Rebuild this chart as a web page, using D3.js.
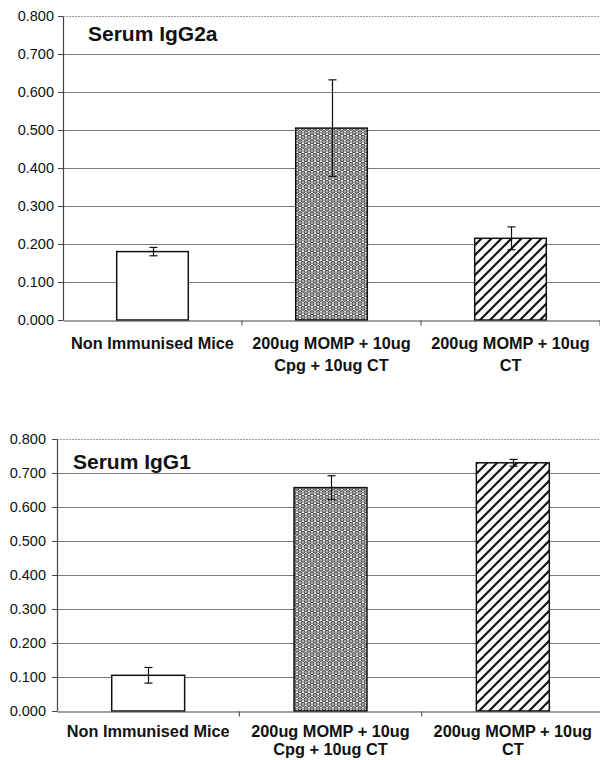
<!DOCTYPE html>
<html>
<head>
<meta charset="utf-8">
<script src="https://cdn.jsdelivr.net/npm/d3@7"></script>
<style>
  html, body { margin: 0; padding: 0; background: #fff; }
  svg { display: block; }
  text { font-family: "Liberation Sans", Arial, sans-serif; fill: #111; }
</style>
</head>
<body>
<svg id="chart" width="600" height="760"></svg>
<script>
// ---- data ----
const categories = ["Non Immunised Mice", "200ug MOMP + 10ug Cpg + 10ug CT", "200ug MOMP + 10ug CT"];
const categoryLines = [["Non Immunised Mice"], ["200ug MOMP + 10ug", "Cpg + 10ug CT"], ["200ug MOMP + 10ug", "CT"]];
const igg2aValues = [0.180, 0.505, 0.215];
const igg2aErrors = [0.011, 0.127, 0.030];
const igg1Values = [0.105, 0.657, 0.730];
const igg1Errors = [0.023, 0.035, 0.010];
const yTicks = [0, 0.1, 0.2, 0.3, 0.4, 0.5, 0.6, 0.7, 0.8];
const titles = ["Serum IgG2a", "Serum IgG1"];
const fills = ["plain", "spheres", "hatch"];

const svg = d3.select("#chart");
const defs = svg.append("defs");

// spheres pattern
const sp = defs.append("pattern").attr("id", "spheres")
  .attr("patternUnits", "userSpaceOnUse").attr("width", 6).attr("height", 9);
sp.append("rect").attr("width", 6).attr("height", 9).attr("fill", "#fff");
[[3, 2.25], [0, 6.75], [6, 6.75]].forEach(([cx, cy]) => {
  sp.append("circle").attr("cx", cx).attr("cy", cy).attr("r", 2.1)
    .attr("fill", "#a8a8a8").attr("stroke", "#222").attr("stroke-width", 0.9);
});

// hatch pattern
const hp = defs.append("pattern").attr("id", "hatch")
  .attr("patternUnits", "userSpaceOnUse").attr("width", 10).attr("height", 10);
hp.append("rect").attr("width", 10).attr("height", 10).attr("fill", "#fff");
hp.append("path").attr("d", "M-2,2 L2,-2 M0,10 L10,0 M8,12 L12,8")
  .attr("stroke", "#111").attr("stroke-width", 2.2);

function fillFor(k) {
  if (k === "spheres") return "url(#spheres)";
  if (k === "hatch") return "url(#hatch)";
  return "#fff";
}

function drawChart(cfg) {
  const { x0, x1, yBottom, yTop, values, errors, title, titleX, titleY, labelRight, labelY1, labelY2 } = cfg;
  const g = svg.append("g");
  const x = d3.scaleBand().domain(categories).range([x0, x1]).paddingInner(0.6).paddingOuter(0.3);
  const xb = d3.scaleBand().domain(categories).range([x0, x1]);
  const y = d3.scaleLinear().domain([0, 0.8]).range([yBottom, yTop]);

  // gridlines
  g.selectAll("line.grid").data(yTicks.filter(t => t > 0)).join("line")
    .attr("x1", x0).attr("x2", 600)
    .attr("y1", d => Math.round(y(d)) + 0.5).attr("y2", d => Math.round(y(d)) + 0.5)
    .attr("stroke", d => d === 0.8 ? "#999" : "#7a7a7a")
    .attr("stroke-width", 1)
    .attr("stroke-dasharray", d => d === 0.8 ? "2,1" : null);

  // y axis
  const yAxis = d3.axisLeft(y).tickValues(yTicks).tickFormat(d3.format(".3f")).tickSize(5).tickSizeOuter(0);
  const ya = g.append("g").attr("transform", `translate(${x0},0)`).call(yAxis);
  ya.select(".domain").attr("stroke", "#444").attr("stroke-width", 1.2);
  ya.selectAll(".tick line").attr("stroke", "#444");
  ya.selectAll(".tick text").attr("x", labelRight - x0).attr("font-size", 14.5)
    .attr("font-family", "Liberation Sans, Arial, sans-serif").attr("fill", "#222");

  // bars
  g.selectAll("rect.bar").data(values).join("rect")
    .attr("x", (d, i) => x(categories[i]))
    .attr("width", x.bandwidth())
    .attr("y", d => y(d))
    .attr("height", d => y(0) - y(d))
    .attr("fill", (d, i) => fillFor(fills[i]))
    .attr("stroke", "#111").attr("stroke-width", 1.5);

  // x axis
  const xAxis = d3.axisBottom(xb).tickSize(5).tickSizeOuter(0).tickFormat("");
  const xa = g.append("g").attr("transform", `translate(0,${Math.round(y(0)) + 0.5})`).call(xAxis);
  xa.select(".domain").attr("stroke", "#444").attr("stroke-width", 1.2);
  xa.selectAll(".tick line").attr("stroke", "#444")
    .attr("transform", `translate(${-xb.bandwidth() / 2},0)`);
  xa.selectAll(".tick").filter((d, i) => i === 0).select("line").remove();
  xa.selectAll(".tick").filter((d, i) => i === categories.length - 1).append("line")
    .attr("stroke", "#444").attr("y2", 5).attr("x1", xb.bandwidth() / 2).attr("x2", xb.bandwidth() / 2);

  // error bars
  const eg = g.append("g").attr("stroke", "#111").attr("stroke-width", 1.2);
  values.forEach((v, i) => {
    const cx = Math.round(x(categories[i]) + x.bandwidth() / 2) + 0.5;
    const hi = y(v + errors[i]), lo = y(v - errors[i]);
    eg.append("line").attr("x1", cx).attr("x2", cx).attr("y1", hi).attr("y2", lo);
    eg.append("line").attr("x1", cx - 4).attr("x2", cx + 4).attr("y1", hi).attr("y2", hi);
    eg.append("line").attr("x1", cx - 4).attr("x2", cx + 4).attr("y1", lo).attr("y2", lo);
  });

  // category labels
  categoryLines.forEach((lines, i) => {
    const cx = xb(categories[i]) + xb.bandwidth() / 2;
    lines.forEach((ln, j) => {
      g.append("text").attr("x", cx).attr("y", j === 0 ? labelY1 : labelY2)
        .attr("text-anchor", "middle").attr("font-weight", "bold").attr("font-size", 16.3)
        .text(ln);
    });
  });

  // title
  g.append("text").attr("x", titleX).attr("y", titleY)
    .attr("font-weight", "bold").attr("font-size", 21).text(title);
}

drawChart({ x0: 63, x1: 600, yBottom: 320, yTop: 16, values: igg2aValues, errors: igg2aErrors,
  title: titles[0], titleX: 88, titleY: 41, labelRight: 54, labelY1: 349, labelY2: 371 });
drawChart({ x0: 57, x1: 604, yBottom: 711, yTop: 439, values: igg1Values, errors: igg1Errors,
  title: titles[1], titleX: 73, titleY: 469, labelRight: 46, labelY1: 737, labelY2: 755 });
</script>
</body>
</html>
